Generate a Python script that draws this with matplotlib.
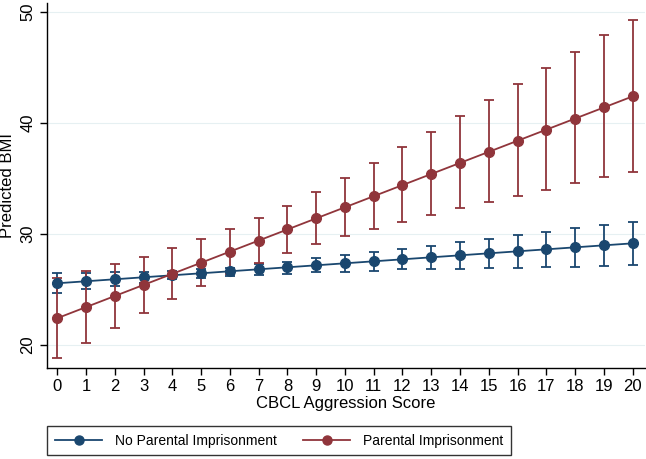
import numpy as np
import matplotlib.pyplot as plt
from matplotlib.lines import Line2D

plt.rcParams['font.family'] = ['Liberation Sans', 'DejaVu Sans']

# CBCL aggression scores
scores = list(range(21))

# No parental imprisonment: predicted BMI and 95% CI
no_pi = [25.55, 25.73, 25.91, 26.09, 26.27, 26.45, 26.63, 26.81, 26.99, 27.17, 27.35,
         27.53, 27.71, 27.89, 28.07, 28.25, 28.43, 28.61, 28.79, 28.97, 29.15]
no_pi_lo = [24.65, 25.0, 25.3, 25.6, 25.9, 26.05, 26.2, 26.3, 26.4, 26.55, 26.6,
            26.7, 26.8, 26.8, 26.85, 26.9, 26.9, 27.0, 27.05, 27.1, 27.2]
no_pi_hi = [26.45, 26.5, 26.55, 26.6, 26.7, 26.85, 26.95, 27.25, 27.5, 27.8, 28.1,
            28.35, 28.65, 28.95, 29.25, 29.55, 29.9, 30.15, 30.5, 30.8, 31.1]

# Parental imprisonment: predicted BMI and 95% CI
pi = [22.4, 23.4, 24.4, 25.4, 26.4, 27.4, 28.4, 29.4, 30.4, 31.4, 32.4,
      33.4, 34.4, 35.4, 36.4, 37.4, 38.4, 39.4, 40.4, 41.4, 42.4]
pi_lo = [18.8, 20.15, 21.55, 22.9, 24.1, 25.3, 26.4, 27.4, 28.3, 29.1, 29.8,
         30.45, 31.1, 31.7, 32.3, 32.9, 33.45, 34.0, 34.6, 35.1, 35.6]
pi_hi = [26.0, 26.7, 27.3, 27.95, 28.7, 29.5, 30.4, 31.4, 32.55, 33.8, 35.07,
         36.4, 37.8, 39.2, 40.6, 42.1, 43.5, 45.0, 46.4, 47.9, 49.3]

navy = '#1a476f'
maroon = '#90353b'

fig = plt.figure(figsize=(6.46, 4.59), dpi=100)
ax = fig.add_axes([0.073, 0.198, 0.925, 0.795])

for y, lo, hi, c in [(no_pi, no_pi_lo, no_pi_hi, navy), (pi, pi_lo, pi_hi, maroon)]:
    y = np.array(y)
    err = [y - np.array(lo), np.array(hi) - y]
    ax.errorbar(scores, y, yerr=err, fmt='none', ecolor=c, elinewidth=1.3,
                capsize=3.5, capthick=1.3, zorder=2)
    ax.plot(scores, y, '-', color=c, lw=1.3, marker='o', markersize=7, zorder=3)

ax.set_xlim(-0.35, 20.42)
ax.set_ylim(17.9, 50.8)
ax.set_xticks(scores)
ax.set_yticks([20, 30, 40, 50])
ax.set_yticklabels(['20', '30', '40', '50'], rotation=90, va='center')
ax.tick_params(labelsize=12, length=5, width=1, color='black')
ax.tick_params(axis='x', pad=3)
ax.grid(axis='y', color='#e6f0f2', lw=0.8)
ax.set_axisbelow(True)
for s in ['top', 'right']:
    ax.spines[s].set_visible(False)
for s in ['left', 'bottom']:
    ax.spines[s].set_linewidth(1.0)
ax.set_xlabel('CBCL Aggression Score', fontsize=12, labelpad=1)
ax.set_ylabel('Predicted BMI', fontsize=12, labelpad=4)

handles = [Line2D([], [], color=navy, lw=1.3, marker='o', markersize=6.5),
           Line2D([], [], color=maroon, lw=1.3, marker='o', markersize=6.5)]
leg = fig.legend(handles, ['No Parental Imprisonment', 'Parental Imprisonment'],
                 loc='center', bbox_to_anchor=(279 / 646, 0.04), ncol=2,
                 fontsize=10, frameon=True, fancybox=False, edgecolor='black',
                 handlelength=3.4, columnspacing=1.9, borderpad=0.55,
                 handletextpad=0.9)
leg.get_frame().set_linewidth(1.0)

fig.savefig('out.png', dpi=100)
